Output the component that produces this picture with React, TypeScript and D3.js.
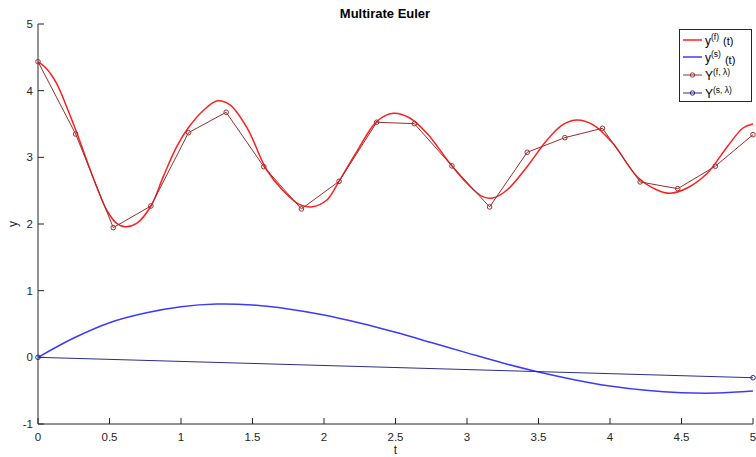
import React from "react";
import * as d3 from "d3";

const xTicks = [0, 0.5, 1, 1.5, 2, 2.5, 3, 3.5, 4, 4.5, 5];
const yTicks = [-1, 0, 1, 2, 3, 4, 5];

// y^(f)(t): [t, y]
const yfT = [0, 0.06, 0.13, 0.2, 0.264, 0.34, 0.41, 0.48, 0.55, 0.61, 0.69, 0.79, 0.876, 0.97, 1.05, 1.16, 1.25, 1.34, 1.46, 1.6, 1.71, 1.83, 1.92, 2.02, 2.105, 2.23, 2.37, 2.485, 2.6, 2.72, 2.88, 3.0, 3.11, 3.18, 3.28, 3.42, 3.56, 3.67, 3.77, 3.88, 4.02, 4.19, 4.33, 4.42, 4.54, 4.68, 4.82, 4.93, 5.0];
const yfV = [4.435, 4.33, 4.11, 3.76, 3.41, 2.96, 2.56, 2.21, 2.01, 1.96, 2.01, 2.27, 2.71, 3.16, 3.44, 3.71, 3.845, 3.79, 3.45, 2.81, 2.51, 2.29, 2.26, 2.36, 2.64, 3.09, 3.54, 3.66, 3.59, 3.36, 2.91, 2.61, 2.41, 2.39, 2.51, 2.86, 3.26, 3.49, 3.56, 3.49, 3.21, 2.71, 2.51, 2.46, 2.54, 2.76, 3.16, 3.44, 3.5];

// y^(s)(t)
const ysT = [0, 0.25, 0.5, 0.75, 1.0, 1.25, 1.5, 1.75, 2.0, 2.25, 2.5, 2.75, 3.0, 3.25, 3.5, 3.75, 4.0, 4.25, 4.5, 4.75, 5.0];
const ysV = [0, 0.29, 0.52, 0.665, 0.76, 0.8, 0.785, 0.725, 0.635, 0.515, 0.375, 0.222, 0.067, -0.085, -0.22, -0.335, -0.43, -0.495, -0.53, -0.535, -0.505];

// Y^(f, λ): 20 equally spaced steps on [0, 5]
const YfV = [4.435, 3.35, 1.946, 2.27, 3.37, 3.676, 2.86, 2.226, 2.64, 3.526, 3.505, 2.871, 2.256, 3.076, 3.295, 3.436, 2.631, 2.53, 2.867, 3.34];
const YfT = YfV.map((_, i) => (i * 5) / 19);

// Y^(s, λ)
const YsT = [0, 5];
const YsV = [0, -0.306];

const W = 756, H = 457;
const L = 38, R = 753, T = 24, B = 424;

export default function App() {
  const x = d3.scaleLinear().domain([0, 5]).range([L, R]);
  const y = d3.scaleLinear().domain([-1, 5]).range([B, T]);
  const mk = (ts: number[], vs: number[], curve: any) =>
    d3.line<number>().x((t) => x(t)).y((_, i) => y(vs[i])).curve(curve)(ts) || "";

  const font = "'Liberation Sans', Arial, Helvetica, sans-serif";
  const axisColor = "#262626";
  const cRed = "#ff1f1f";
  const cBlue = "#3b3bff";
  const cYf = "#9a2f2f";
  const cYs = "#2c2c8a";

  const legendRows = [
    { color: cRed, w: 1.5, marker: false, main: "y", sup: "(f)", tail: "(t)", tailDy: 0 },
    { color: cBlue, w: 1.5, marker: false, main: "y", sup: "(s)", tail: "(t)", tailDy: 2 },
    { color: cYf, w: 1, marker: true, main: "Y", sup: "(f, λ)", tail: "", tailDy: 0 },
    { color: cYs, w: 1, marker: true, main: "Y", sup: "(s, λ)", tail: "", tailDy: 0 },
  ];
  const rowY = [40, 57, 75, 93];

  return (
    <svg width={W} height={H} style={{ position: "absolute", left: 0, top: 0 }} fontFamily={font}>
      <rect x={0} y={0} width={W} height={H} fill="#fff" />
      {/* axes */}
      <line x1={L} y1={T} x2={L} y2={B} stroke={axisColor} strokeWidth={1} />
      <line x1={L} y1={B} x2={R} y2={B} stroke={axisColor} strokeWidth={1} />
      {yTicks.map((v) => (
        <g key={"y" + v}>
          <line x1={L} x2={L + 6} y1={y(v)} y2={y(v)} stroke={axisColor} />
          <text x={L - 5} y={y(v)} dy="0.35em" textAnchor="end" fontSize={11.5} fill={axisColor}>
            {v}
          </text>
        </g>
      ))}
      {xTicks.map((v) => (
        <g key={"x" + v}>
          <line x1={x(v)} x2={x(v)} y1={B} y2={B - 6} stroke={axisColor} />
          <text x={x(v)} y={B + 13} dy="0.35em" textAnchor="middle" fontSize={11.5} fill={axisColor}>
            {v}
          </text>
        </g>
      ))}
      <text x={x(2.5)} y={450} dy="0.35em" textAnchor="middle" fontSize={12} fill={axisColor}>t</text>
      <text transform={`translate(13,${(T + B) / 2}) rotate(-90)`} textAnchor="middle" dy="0.35em" fontSize={12} fill={axisColor}>y</text>
      <text x={385} y={13} dy="0.35em" textAnchor="middle" fontSize={13} fontWeight="bold" fill="#000">Multirate Euler</text>

      {/* series */}
      <path d={mk(yfT, yfV, d3.curveCatmullRom)} fill="none" stroke={cRed} strokeWidth={1.5} />
      <path d={mk(ysT, ysV, d3.curveCatmullRom)} fill="none" stroke={cBlue} strokeWidth={1.5} />
      <path d={mk(YfT, YfV, d3.curveLinear)} fill="none" stroke={cYf} strokeWidth={1} />
      {YfT.map((t, i) => (
        <circle key={"f" + i} cx={x(t)} cy={y(YfV[i])} r={2.3} fill="none" stroke={cYf} strokeWidth={1} />
      ))}
      <path d={mk(YsT, YsV, d3.curveLinear)} fill="none" stroke={cYs} strokeWidth={1} />
      {YsT.map((t, i) => (
        <circle key={"s" + i} cx={x(t)} cy={y(YsV[i])} r={2.3} fill="none" stroke={cYs} strokeWidth={1} />
      ))}

      {/* legend */}
      <rect x={679.5} y={29.5} width={72} height={72} fill="#fff" stroke="#262626" strokeWidth={1} />
      {legendRows.map((r, i) => (
        <g key={"lg" + i}>
          <line x1={683} x2={702} y1={rowY[i]} y2={rowY[i]} stroke={r.color} strokeWidth={r.w} />
          {r.marker && <circle cx={692.5} cy={rowY[i]} r={2.2} fill="none" stroke={r.color} />}
          <text x={705} y={rowY[i] + 4.5} fontSize={12} fill="#000">
            {r.main}
            <tspan dy={-5} fontSize={8.5}>{r.sup}</tspan>
            {r.tail && (
              <tspan dx={4} dy={5 + r.tailDy} fontSize={11}>{r.tail}</tspan>
            )}
          </text>
        </g>
      ))}
    </svg>
  );
}
